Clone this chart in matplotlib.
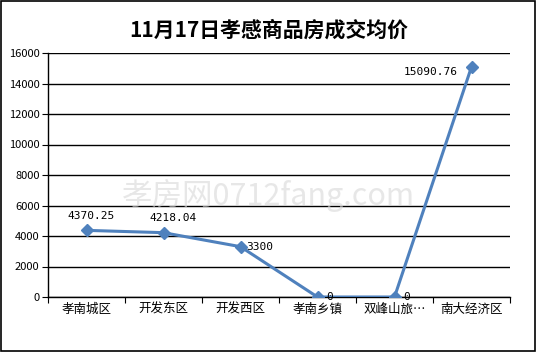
import matplotlib
matplotlib.use('Agg')
import matplotlib.pyplot as plt
from matplotlib.patches import Rectangle

plt.rcParams['font.family'] = ['Noto Sans CJK SC', 'DejaVu Sans']

categories = ['孝南城区', '开发东区', '开发西区', '孝南乡镇', '双峰山旅…', '南大经济区']
prices = [4370.25, 4218.04, 3300, 0, 0, 15090.76]
labels = ['4370.25', '4218.04', '3300', '0', '0', '15090.76']
yticks = [0, 2000, 4000, 6000, 8000, 10000, 12000, 14000, 16000]

fig = plt.figure(figsize=(5.37, 3.52), dpi=100)
ax = fig.add_axes([48/537, 1 - 297/352, 462/537, 244/352])

x = [i + 0.5 for i in range(len(categories))]
ax.plot(x, prices, color='#4F81BD', lw=2.2, marker='D', ms=6, zorder=3)

# value labels (offsets in points)
offs = [(3, 7, 'center'), (7, 7, 'center'), (4, 0, 'left'), (6, 0, 'left'),
        (6, 0, 'left'), (-10, -4, 'right')]
for xi, yi, t, (dx, dy, ha) in zip(x, prices, labels, offs):
    ax.annotate(t, (xi, yi), xytext=(dx, dy), textcoords='offset points',
                ha=ha, va='bottom' if dy > 0 else 'center', fontsize=8,
                family=['DejaVu Sans Mono'])

ax.set_xlim(0, 6)
ax.set_ylim(0, 16000)
ax.set_yticks(yticks)
ax.set_yticklabels([str(v) for v in yticks], fontsize=8)
ax.set_xticks(range(7))
ax.set_xticklabels([])
ax.set_xticks(x, minor=True)
ax.set_xticklabels(categories, minor=True, fontsize=9)
ax.tick_params(axis='x', which='minor', length=0, pad=4)
ax.tick_params(axis='x', which='major', length=4, direction='out', color='black')
ax.tick_params(axis='y', length=4, direction='out', pad=2)
ax.grid(axis='y', color='black', lw=1)
for s in ['top', 'right']:
    ax.spines[s].set_visible(False)
ax.spines['left'].set_linewidth(1)
ax.spines['bottom'].set_linewidth(1)

fig.text(0.5, 1 - 30/352, '11月17日孝感商品房成交均价', ha='center', va='center',
         fontsize=15, fontweight='bold')
fig.text(0.5, 1 - 195/352, '孝房网0712fang.com', ha='center', va='center',
         fontsize=22, color='#d8d8d8', alpha=0.6, zorder=0)

fig.patches.append(Rectangle((0.002, 0.003), 0.995, 0.994, transform=fig.transFigure,
                             fill=False, ec='black', lw=1.2))
fig.savefig('out.png', dpi=100)
